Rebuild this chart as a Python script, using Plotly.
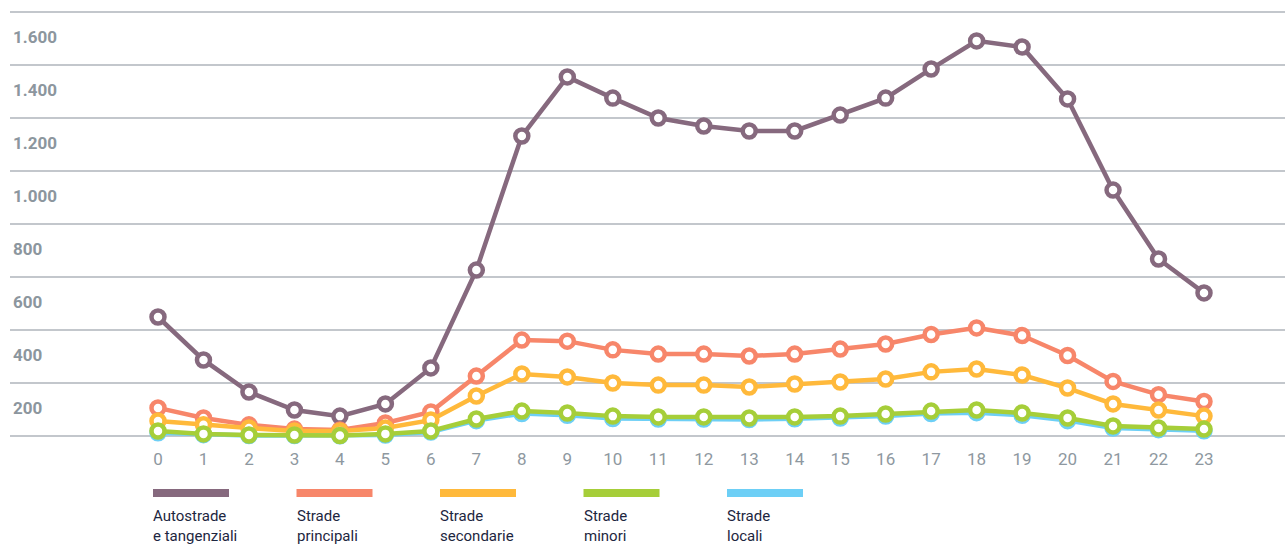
import plotly.graph_objects as go

hours = list(range(24))

autostrade = [449, 287, 166, 98, 75, 121, 257, 626, 1132, 1355, 1275, 1200,
              1170, 1151, 1151, 1211, 1275, 1385, 1491, 1468, 1272, 928, 668, 540]
principali = [106, 68, 42, 26, 23, 49, 91, 226, 362, 358, 325, 309,
              309, 302, 309, 328, 347, 383, 408, 379, 304, 206, 156, 130]
secondarie = [57, 42, 30, 19, 19, 30, 60, 151, 234, 223, 200, 192,
              192, 185, 196, 204, 215, 242, 253, 230, 181, 121, 98, 75]
minori = [19, 8, 4, 4, 2, 8, 19, 64, 94, 87, 75, 72,
          72, 68, 72, 75, 83, 94, 98, 87, 68, 38, 30, 26]
locali = [12, 5, 2, 2, 1, 4, 15, 58, 85, 78, 66, 64,
          64, 62, 65, 68, 75, 85, 88, 78, 58, 30, 24, 20]

series_names = ["Autostrade<br>e tangenziali", "Strade<br>principali",
                "Strade<br>secondarie", "Strade<br>minori", "Strade<br>locali"]
series_values = [autostrade, principali, secondarie, minori, locali]
series_colors = ["#86697e", "#f7866a", "#ffb93b", "#a6ce39", "#6dcff6"]

y_ticks = [0, 200, 400, 600, 800, 1000, 1200, 1400, 1600]


def fmt(v):
    return "" if v == 0 else f"{v:,}".replace(",", ".")


fig = go.Figure()

# drawing order: purple, orange, yellow, blue, green (green on top of blue)
draw_order = [0, 1, 2, 4, 3]
for i in draw_order:
    fig.add_trace(go.Scatter(
        x=hours, y=series_values[i], mode="lines+markers",
        name=series_names[i].replace("<br>", " "),
        line=dict(color=series_colors[i], width=4.5),
        marker=dict(symbol="circle", size=13, color="white",
                    line=dict(color=series_colors[i], width=4.5)),
        cliponaxis=False, showlegend=False,
    ))

# custom legend: colored bar with label below
L, R, T, B = 10, 0, 2, 101
W, H = 1285, 545
pw, ph = W - L - R, H - T - B


def px_to_paper_x(px):
    return (px - L) / pw


def py_to_paper_y(py):
    return (H - B - py) / ph


leg_x0, leg_dx, bar_w = 153, 143.5, 76
for k, (name, col) in enumerate(zip(series_names, series_colors)):
    x0 = leg_x0 + k * leg_dx
    fig.add_shape(type="rect", xref="paper", yref="paper",
                  x0=px_to_paper_x(x0), x1=px_to_paper_x(x0 + bar_w),
                  y0=py_to_paper_y(497), y1=py_to_paper_y(489),
                  fillcolor=col, line=dict(width=0))
    fig.add_annotation(xref="paper", yref="paper",
                       x=px_to_paper_x(x0 - 2), y=py_to_paper_y(505),
                       xanchor="left", yanchor="top", align="left",
                       text=name, showarrow=False,
                       font=dict(family="Roboto", size=15, color="#1d2640"))

fig.update_layout(
    width=W, height=H,
    margin=dict(l=L, r=R, t=T, b=B, pad=0),
    paper_bgcolor="white", plot_bgcolor="white",
    showlegend=False,
    font=dict(family="Roboto"),
)

fig.update_xaxes(
    range=[-3.254, 24.781], tickvals=hours, ticktext=[str(h) for h in hours],
    showgrid=False, zeroline=False, showline=False, ticks="",
    ticklabelstandoff=3, automargin=False,
    tickfont=dict(family="Roboto", size=17, color="#8e98a0"),
)
fig.update_yaxes(
    range=[-30.2, 1637.7], tickvals=y_ticks, ticktext=[fmt(v) for v in y_ticks],
    showgrid=True, gridcolor="#c3c7cc", gridwidth=2, zeroline=False,
    showline=False, ticks="", automargin=False,
    ticklabelposition="inside bottom", ticklabelshift=13,
    tickfont=dict(family="Roboto", size=17, color="#8c969e", weight="bold"),
)

fig.write_html("out.html", post_script="document.body.style.margin='0';",
               config={"displayModeBar": False})
